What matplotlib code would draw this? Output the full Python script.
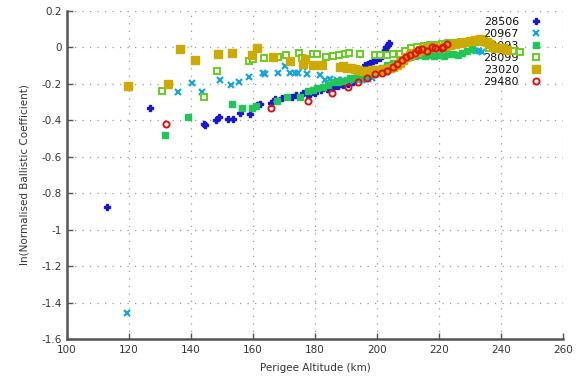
import matplotlib
matplotlib.use("Agg")
import matplotlib.pyplot as plt

# ---- data ----
labels = ["28506", "20967", "28093", "28099", "23020", "29480"]

alt_28506 = [112.9, 126.8, 144.5, 144.2, 148.0, 149.0, 151.8, 153.5, 155.8, 158.9, 161.2, 162.3,
             165.7, 167.0, 169.3, 172.5, 174.0, 176.0, 177.5, 178.4, 180.0, 182.0, 184.0, 185.8,
             187.5, 189.0, 190.5, 192.3, 193.4, 194.2, 195.0, 196.1, 197.0, 197.8, 198.7, 199.8,
             201.0, 201.8, 202.5, 203.0, 203.5, 204.0]
bc_28506 = [-0.877, -0.333, -0.426, -0.420, -0.400, -0.380, -0.395, -0.393, -0.360, -0.366, -0.316, -0.311,
            -0.307, -0.282, -0.280, -0.274, -0.262, -0.250, -0.255, -0.256, -0.248, -0.234, -0.228, -0.220,
            -0.213, -0.207, -0.200, -0.190, -0.160, -0.150, -0.140, -0.097, -0.090, -0.083, -0.072, -0.068,
            -0.060, -0.040, -0.015, 0.000, 0.015, 0.026]

alt_20967 = [119.5, 135.9, 140.4, 143.4, 149.4, 152.9, 155.5, 158.8, 163.3, 164.0, 168.2, 170.3,
             171.9, 173.5, 174.5, 176.2, 177.3, 181.6, 183.2, 184.8, 187.0, 189.0, 191.0, 193.0,
             195.0, 197.0, 198.3, 231.0, 232.0, 233.0, 234.0]
bc_20967 = [-1.455, -0.247, -0.197, -0.247, -0.179, -0.207, -0.188, -0.161, -0.142, -0.145, -0.142, -0.102,
            -0.142, -0.142, -0.142, -0.110, -0.146, -0.152, -0.179, -0.174, -0.179, -0.180, -0.185, -0.180,
            -0.178, -0.172, -0.170, -0.015, -0.022, -0.018, -0.025]

alt_28093 = [131.6, 139.1, 153.3, 156.6, 159.6, 161.0, 167.9, 170.9, 175.2, 177.8, 179.4, 180.5,
             182.6, 184.2, 185.8, 187.4, 189.0, 191.3, 193.0, 195.0, 196.7, 198.3, 199.9, 201.5,
             203.1, 205.0, 207.4, 209.0, 210.6, 212.3, 213.9, 215.5, 217.0, 218.5, 220.0, 221.5,
             223.0, 224.5, 226.0, 227.5, 229.0, 230.5]
bc_28093 = [-0.478, -0.381, -0.313, -0.335, -0.335, -0.322, -0.295, -0.271, -0.274, -0.238, -0.234, -0.225,
            -0.218, -0.207, -0.190, -0.188, -0.183, -0.168, -0.165, -0.158, -0.152, -0.142, -0.133, -0.115,
            -0.097, -0.083, -0.069, -0.060, -0.050, -0.045, -0.042, -0.045, -0.040, -0.045, -0.040, -0.045,
            -0.038, -0.035, -0.040, -0.030, -0.020, -0.010]

alt_28099 = [130.5, 144.2, 148.3, 158.7, 160.1, 163.6, 168.2, 170.6, 174.8, 175.7, 176.8, 179.5,
             180.5, 183.4, 185.7, 187.7, 189.7, 191.1, 194.5, 199.4, 201.0, 203.1, 205.0, 207.4,
             209.0, 211.0, 213.0, 215.0, 217.0, 219.0, 221.0, 223.0, 225.0, 227.0, 229.0, 231.0,
             233.0, 236.0, 238.0, 240.0, 241.8, 244.0, 246.1]
bc_28099 = [-0.238, -0.271, -0.128, -0.073, -0.065, -0.060, -0.051, -0.042, -0.032, -0.060, -0.065, -0.036,
            -0.036, -0.051, -0.047, -0.042, -0.036, -0.029, -0.036, -0.042, -0.042, -0.042, -0.038, -0.036,
            -0.020, -0.005, 0.005, 0.010, 0.012, 0.015, 0.018, 0.022, 0.025, 0.028, 0.030, 0.030,
            0.028, -0.005, -0.008, -0.010, -0.014, -0.018, -0.024]

alt_23020 = [119.8, 132.5, 136.5, 141.3, 148.8, 153.3, 159.8, 161.2, 166.5, 171.9, 176.2, 176.8,
             179.5, 182.2, 188.0, 189.0, 190.2, 191.5, 192.9, 194.0, 195.6, 197.0, 198.3, 199.5,
             201.0, 202.5, 204.2, 205.3, 206.4, 207.5, 208.5, 209.5, 210.6, 211.7, 212.8, 214.0,
             215.0, 216.0, 217.5, 219.0, 220.3, 222.0, 223.5, 225.0, 226.8, 228.5, 230.0, 231.5,
             233.2, 234.3, 235.4, 236.5, 237.5, 239.0, 240.7, 241.8]
bc_23020 = [-0.212, -0.201, -0.010, -0.069, -0.038, -0.032, -0.042, -0.005, -0.051, -0.073, -0.090, -0.065,
            -0.097, -0.095, -0.106, -0.100, -0.112, -0.115, -0.120, -0.125, -0.132, -0.128, -0.124, -0.125,
            -0.124, -0.120, -0.115, -0.106, -0.097, -0.083, -0.069, -0.055, -0.042, -0.032, -0.024, -0.015,
            -0.008, -0.005, 0.000, 0.002, 0.004, 0.008, 0.013, 0.018, 0.022, 0.030, 0.037, 0.041,
            0.044, 0.038, 0.031, 0.018, 0.004, -0.001, -0.005, -0.014]

alt_29480 = [131.9, 165.8, 177.8, 185.4, 190.7, 194.0, 196.7, 199.4, 201.5, 203.3, 205.0, 206.4,
             208.0, 209.4, 210.8, 212.3, 213.3, 214.4, 216.0, 217.6, 218.7, 220.9, 221.4, 222.5]
bc_29480 = [-0.421, -0.332, -0.293, -0.249, -0.219, -0.188, -0.170, -0.146, -0.139, -0.128, -0.109, -0.091,
            -0.069, -0.054, -0.042, -0.032, -0.014, -0.010, -0.018, 0.004, -0.005, -0.005, 0.004, 0.019]

x_ticks = [100, 120, 140, 160, 180, 200, 220, 240, 260]
y_ticks = [0.2, 0, -0.2, -0.4, -0.6, -0.8, -1, -1.2, -1.4, -1.6]
y_tick_labels = ["0.2", "0", "-0.2", "-0.4", "-0.6", "-0.8", "-1", "-1.2", "-1.4", "-1.6"]

# ---- figure ----
fig = plt.figure(figsize=(5.86, 3.76), dpi=100)
ax = fig.add_axes([67 / 586, 37 / 376, (563 - 67) / 586, (339 - 11) / 376])

txt = "#333333"
ax.plot(alt_28506, bc_28506, linestyle="none", marker="P", ms=4.2, color="#1818d0",
        mec="#1818d0", label=labels[0], zorder=3)
ax.plot(alt_20967, bc_20967, linestyle="none", marker="x", ms=4.2, mew=1.6, color="#1aa6dc",
        label=labels[1], zorder=3)
ax.plot(alt_28093, bc_28093, linestyle="none", marker="s", ms=4.2, color="#22c657",
        mec="#22c657", label=labels[2], zorder=3)
ax.plot(alt_28099, bc_28099, linestyle="none", marker="s", ms=4.6, mfc="white", mew=1.4,
        color="#66cc22", mec="#66cc22", label=labels[3], zorder=3)
ax.plot(alt_23020, bc_23020, linestyle="none", marker="s", ms=5.6, color="#ccaa00",
        mec="#ccaa00", label=labels[4], zorder=3)
ax.plot(alt_29480, bc_29480, linestyle="none", marker="o", ms=4.4, mfc="none", mew=1.4,
        color="#dd1111", mec="#dd1111", label=labels[5], zorder=4)

ax.set_xlim(100, 260)
ax.set_ylim(-1.6, 0.2)
ax.set_xticks(x_ticks)
ax.set_yticks(y_ticks)
ax.set_yticklabels(y_tick_labels)

for s in ["top", "right"]:
    ax.spines[s].set_visible(False)
for s in ["left", "bottom"]:
    ax.spines[s].set_color("#555555")
    ax.spines[s].set_linewidth(1.8)

ax.tick_params(direction="in", length=4, width=1, colors="#555555", labelsize=7.5,
               labelcolor=txt, pad=4)
ax.grid(True, color="#999999", linestyle=(0, (1, 5)), linewidth=0.9)
ax.set_axisbelow(True)

ax.set_xlabel("Perigee Altitude (km)", fontsize=7.5, color=txt, labelpad=6)
ax.set_ylabel("ln(Normalised Ballistic Coefficient)", fontsize=7.5, color=txt, labelpad=8)

leg = ax.legend(loc="upper right", bbox_to_anchor=(0.973, 1.006), frameon=False,
                markerfirst=False, fontsize=8, labelspacing=0.19, handletextpad=1.06,
                handlelength=1.0, borderpad=0.2)
for t in leg.get_texts():
    t.set_color("#111111")
leg.set_zorder(2)

fig.savefig("out.png", dpi=100)
